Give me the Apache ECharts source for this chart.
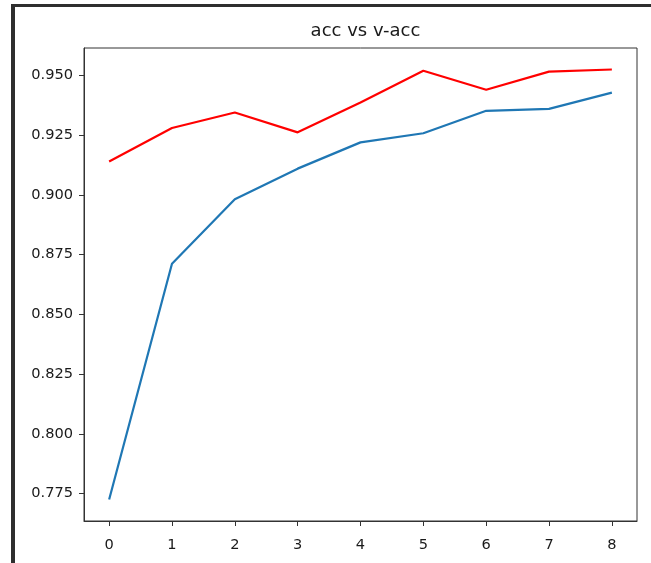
<!DOCTYPE html>
<html>
<head>
<meta charset="utf-8">
<script src="https://cdn.jsdelivr.net/npm/echarts@6/dist/echarts.min.js"></script>
<style>
html,body{margin:0;padding:0;background:#fff;}
#chart{width:651px;height:563px;}
</style>
</head>
<body>
<div id="chart"></div>
<script>
var epochs = [0, 1, 2, 3, 4, 5, 6, 7, 8];
var acc = [0.7725, 0.8712, 0.8982, 0.9110, 0.9220, 0.9258, 0.9352, 0.9360, 0.9428];
var valAcc = [0.9140, 0.9280, 0.9345, 0.9262, 0.9387, 0.9520, 0.9440, 0.9516, 0.9525];
var yTicks = [0.775, 0.800, 0.825, 0.850, 0.875, 0.900, 0.925, 0.950];
var xTicks = [0, 1, 2, 3, 4, 5, 6, 7, 8];
var titleText = 'acc vs v-acc';

var allY = acc.concat(valAcc);
var dMin = Math.min.apply(null, allY), dMax = Math.max.apply(null, allY);
var m = (dMax - dMin) * 0.05;
var yMin = dMin - m, yMax = dMax + m;
var xm = (epochs[epochs.length - 1] - epochs[0]) * 0.05;

function pairs(ys) { return epochs.map(function (x, i) { return [x, ys[i]]; }); }

var font = 'DejaVu Sans';
var chart = echarts.init(document.getElementById('chart'), null, {renderer: 'canvas'});
chart.setOption({
  animation: false,
  backgroundColor: '#ffffff',
  title: {
    text: titleText, left: 360.5, top: 17, textAlign: 'center',
    textStyle: {fontFamily: font, fontSize: 18, fontWeight: 'normal', color: '#1a1a1a'}
  },
  grid: {left: 84, right: 14, top: 48, bottom: 42, show: true, borderColor: '#333', borderWidth: 1, backgroundColor: 'transparent'},
  xAxis: {
    type: 'value', min: epochs[0] - xm, max: epochs[epochs.length - 1] + xm,
    splitLine: {show: false},
    axisLine: {show: true, onZero: false, lineStyle: {color: '#333', width: 1}},
    axisTick: {show: true, inside: false, length: 5, lineStyle: {color: '#333'}, customValues: xTicks},
    axisLabel: {fontFamily: font, fontSize: 14.6, color: '#1a1a1a', margin: 17, customValues: xTicks,
      formatter: function (v) { return String(Math.round(v)); }}
  },
  yAxis: {
    type: 'value', min: yMin, max: yMax,
    splitLine: {show: false},
    axisLine: {show: true, onZero: false, lineStyle: {color: '#333', width: 1}},
    axisTick: {show: true, inside: false, length: 5, lineStyle: {color: '#333'}, customValues: yTicks},
    axisLabel: {fontFamily: font, fontSize: 14.6, color: '#1a1a1a', margin: 11, customValues: yTicks,
      formatter: function (v) { return v.toFixed(3); }}
  },
  graphic: [
    {type: 'rect', shape: {x: 11, y: 4, width: 640, height: 3}, style: {fill: '#2e2e2e'}, silent: true},
    {type: 'rect', shape: {x: 11, y: 4, width: 4, height: 559}, style: {fill: '#2e2e2e'}, silent: true}
  ],
  series: [
    {name: 'acc', type: 'line', data: pairs(acc), showSymbol: false, symbol: 'none',
      lineStyle: {color: '#1f77b4', width: 2.2}, z: 2},
    {name: 'v-acc', type: 'line', data: pairs(valAcc), showSymbol: false, symbol: 'none',
      lineStyle: {color: '#ff0000', width: 2.2}, z: 3}
  ]
});
</script>
</body>
</html>
